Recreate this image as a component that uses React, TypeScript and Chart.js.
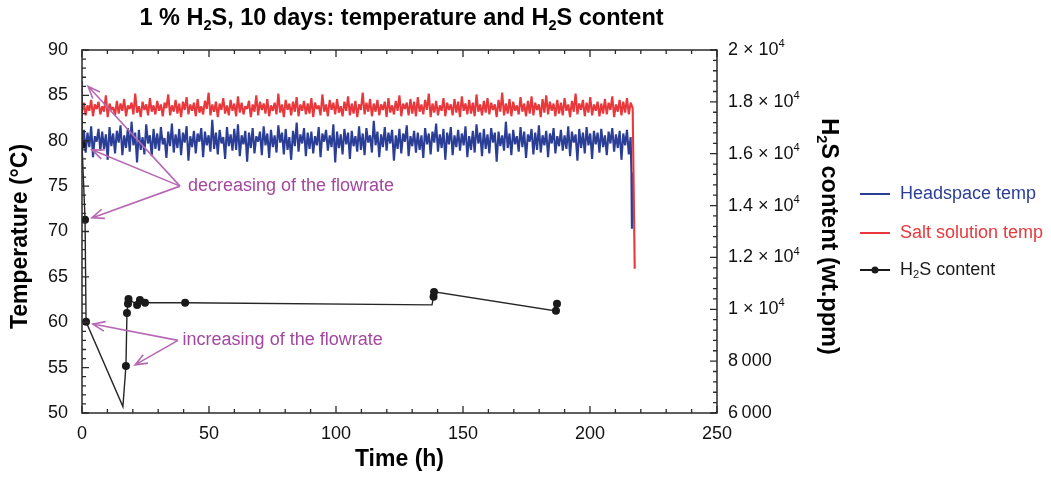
import React, { useEffect, useRef } from 'react';
import { Chart, registerables } from 'chart.js';
Chart.register(...registerables);

// ---------- data ----------
// Headspace temperature (°C), sampled every TEMP_STEP_H hours from TEMP_START_H
const HEADSPACE_TEMP = [
  79.6, 81.2, 78.7, 80.9, 79.3, 81.6, 78.2, 80.5, 79.9, 81.3, 78.9, 81.0, 79.1, 80.7, 77.9, 81.5, 79.4, 80.8, 78.6, 81.1,
  79.8, 81.7, 78.4, 80.6, 79.2, 81.4, 78.8, 82.1, 79.5, 80.9, 77.6, 81.2, 79.0, 80.4, 78.5, 81.8, 79.7, 80.6, 78.3, 81.3,
  79.1, 80.8, 78.9, 81.5, 79.6, 80.3, 78.1, 81.0, 79.4, 81.9, 78.7, 80.7, 79.2, 81.3, 78.4, 80.9, 79.8, 81.6, 77.8, 80.5,
  79.3, 81.1, 78.6, 80.8, 79.9, 81.4, 78.2, 81.0, 79.5, 80.6, 78.8, 82.3, 79.1, 80.9, 78.5, 81.2, 79.7, 80.4, 78.0, 81.5,
  79.4, 80.7, 78.9, 81.3, 79.0, 81.8, 78.3, 80.6, 79.6, 81.1, 77.7, 80.9, 79.2, 81.4, 78.6, 80.5, 79.9, 81.0, 78.4, 81.6,
  79.5, 80.8, 78.1, 81.2, 79.3, 80.6, 78.7, 81.7, 79.8, 80.9, 78.5, 81.3, 79.0, 80.4, 77.9, 81.1, 79.4, 82.0, 78.8, 80.7,
  79.7, 81.4, 78.3, 80.9, 79.1, 81.0, 78.6, 80.5, 79.5, 81.5, 78.2, 80.8, 79.9, 81.2, 78.9, 80.6, 79.3, 81.8, 77.6, 81.0,
  79.2, 80.7, 78.5, 81.3, 79.6, 80.9, 78.0, 81.1, 79.4, 80.5, 78.8, 81.6, 79.0, 80.8, 78.4, 81.4, 79.8, 80.6, 78.7, 82.2,
  79.5, 81.0, 78.2, 80.7, 79.3, 81.5, 78.9, 80.9, 79.7, 81.2, 77.8, 80.6, 79.1, 81.3, 78.6, 80.8, 79.9, 81.7, 78.3, 80.5,
  79.4, 81.1, 78.7, 80.9, 79.0, 80.6, 78.1, 81.4, 79.6, 80.8, 78.5, 81.0, 79.8, 81.9, 78.8, 80.7, 79.2, 81.3, 77.9, 80.9,
  79.6, 81.5, 78.4, 80.6, 79.3, 81.2, 78.9, 80.8, 79.5, 81.6, 78.2, 80.5, 79.0, 81.1, 78.7, 81.8, 79.7, 80.9, 78.3, 81.3,
  79.1, 80.7, 78.6, 81.4, 79.8, 80.9, 77.7, 81.0, 79.4, 80.6, 78.9, 82.1, 79.2, 80.8, 78.4, 81.2, 79.6, 80.5, 78.8, 81.5,
  79.3, 81.0, 78.1, 80.7, 79.9, 81.3, 78.5, 80.9, 79.0, 81.7, 78.7, 80.6, 79.5, 81.1, 78.2, 80.8, 79.7, 81.4, 78.6, 80.5,
  79.4, 81.2, 78.9, 80.6, 79.1, 81.6, 78.3, 81.0, 79.8, 80.7, 77.8, 81.3, 79.2, 80.9, 78.6, 81.5, 79.5, 80.8, 78.0, 81.1,
  79.6, 80.9, 78.7, 81.3, 79.3, 80.6, 78.4, 81.0, 79.7, 81.4, 78.8, 80.7, 79.2, 81.1, 77.9, 80.8, 79.5, 81.2, 78.5, 80.4,
];
// Salt solution temperature (°C), same sampling
const SALT_TEMP = [
  83.1, 84.2, 82.8, 83.9, 83.3, 84.5, 82.7, 84.0, 83.5, 84.3, 82.9, 83.8, 83.2, 85.0, 82.6, 84.1, 83.4, 83.7, 82.8, 84.4,
  83.0, 84.1, 83.3, 84.6, 82.7, 83.9, 83.5, 84.2, 82.9, 85.2, 83.1, 83.8, 82.6, 84.3, 83.4, 84.0, 82.8, 84.7, 83.2, 83.9,
  82.9, 84.4, 83.3, 84.0, 82.7, 84.2, 83.6, 85.1, 82.8, 83.9, 83.2, 84.5, 83.0, 84.1, 82.6, 84.3, 83.4, 84.8, 82.9, 84.0,
  83.3, 84.2, 82.7, 84.6, 83.1, 83.8, 82.9, 84.4, 83.5, 85.3, 82.8, 84.0, 83.2, 84.3, 82.6, 84.1, 83.4, 84.7, 83.0, 83.9,
  82.8, 84.5, 83.3, 84.1, 82.7, 84.9, 83.1, 84.2, 82.9, 83.8, 83.5, 84.4, 82.6, 84.0, 83.2, 85.0, 82.8, 84.3, 83.4, 84.1,
  83.0, 84.6, 82.7, 83.9, 83.3, 84.2, 82.9, 85.2, 83.1, 84.0, 82.6, 84.5, 83.4, 84.1, 82.8, 84.3, 83.2, 84.8, 82.7, 84.0,
  83.3, 84.4, 82.9, 84.1, 83.0, 84.7, 82.6, 84.2, 83.5, 83.9, 82.8, 85.1, 83.2, 84.0, 82.7, 84.5, 83.4, 84.2, 82.9, 84.6,
  83.1, 83.8, 82.7, 84.3, 83.3, 84.9, 82.8, 84.1, 83.0, 84.4, 82.6, 84.0, 83.4, 85.3, 82.9, 84.2, 83.2, 84.6, 82.7, 84.1,
  83.2, 84.5, 82.8, 84.0, 83.4, 84.3, 82.6, 84.7, 83.1, 83.9, 82.9, 84.4, 83.3, 85.0, 82.7, 84.1, 83.5, 84.2, 82.8, 84.6,
  83.0, 84.3, 82.7, 84.8, 83.2, 84.0, 82.9, 84.5, 83.4, 85.2, 82.6, 84.1, 83.1, 84.4, 82.8, 83.9, 83.3, 84.7, 82.7, 84.2,
  83.4, 84.0, 82.8, 84.6, 83.1, 84.3, 82.6, 84.9, 83.3, 84.1, 82.9, 84.5, 83.0, 84.2, 82.7, 85.1, 83.2, 84.0, 82.8, 84.4,
  83.1, 84.7, 82.9, 84.2, 83.4, 84.0, 82.6, 84.5, 83.2, 85.3, 82.8, 84.1, 83.0, 84.6, 82.7, 84.3, 83.3, 83.9, 82.9, 84.8,
  83.2, 84.1, 82.7, 84.4, 83.0, 84.9, 82.8, 84.2, 83.4, 84.0, 82.6, 84.6, 83.1, 85.0, 82.9, 84.3, 83.3, 84.1, 82.7, 84.5,
  83.0, 84.2, 82.8, 84.7, 83.3, 84.0, 82.6, 84.4, 83.2, 85.2, 82.9, 84.1, 83.4, 84.5, 82.7, 84.2, 83.1, 84.8, 82.8, 84.0,
  83.3, 84.3, 82.7, 84.1, 83.0, 84.6, 82.9, 84.2, 83.4, 84.9, 82.6, 84.0, 83.2, 84.5, 82.8, 84.3, 83.1, 84.7, 82.9, 84.2,
];
const TEMP_START_H = 0;
const TEMP_STEP_H = 0.7224;
// end-of-test cool-down readings
const HEADSPACE_END_T = [216.3, 216.5];
const HEADSPACE_END = [76.5, 70.3];
const SALT_END_T = [216.8, 217.6];
const SALT_END = [83.6, 65.9];

// H2S content (wt.ppm)
const H2S_T = [0, 0, 1.2, 1.6, 16.1, 17.3, 17.7, 18.1, 18.3, 21.7, 22.8, 24.8, 40.6, 137.8, 138.4, 138.6, 186.6, 187.0];
const H2S_PPM = [18800, 16350, 13450, 9515, 6250, 7815, 9860, 10210, 10400, 10170, 10360, 10250, 10250, 10170, 10480, 10670, 9940, 10210];
const H2S_MARKED = [false, true, true, true, false, true, true, true, true, true, true, true, true, false, true, true, true, true];

const X_MIN = 0, X_MAX = 250, X_MAJOR = 50, X_MINOR = 10;
const Y_MIN = 50, Y_MAX = 90, Y_MAJOR = 5, Y_MINOR = 1;
const Y2_MIN = 6000, Y2_MAX = 20000, Y2_MAJOR = 2000, Y2_MINOR = 400;
const Y2_TICK_VALUES = [6000, 8000, 10000, 12000, 14000, 16000, 18000, 20000];
const Y2_TICK_MANTISSA = ['6\u2009000', '8\u2009000', '1 × 10', '1.2 × 10', '1.4 × 10', '1.6 × 10', '1.8 × 10', '2 × 10'];
const Y2_TICK_EXPONENT = ['', '', '4', '4', '4', '4', '4', '4'];

const SERIES_NAMES = ['Headspace temp', 'Salt solution temp', 'H₂S content'];

const ANNOTATIONS = [
  { text: 'decreasing of the flowrate', at: [41.7, 75.0], from: [38.6, 75.0], tips: [[2.4, 86.0], [3.9, 79.0], [3.9, 71.5]] },
  { text: 'increasing of the flowrate', at: [39.6, 58.0], from: [37.8, 58.0], tips: [[4.3, 59.8], [20.9, 55.3]] },
];

// ---------- styles ----------
const FONT = '"Liberation Sans", Arial, Helvetica, sans-serif';
const BLUE = '#2b3e96';
const RED = '#e8383c';
const BLACK = '#1a1a1a';
const FRAME = '#2a2a2a';
const MAGENTA_TEXT = '#a4479f';
const MAGENTA_ARROW = '#b768b5';

type Seg = { t: string; sub?: boolean; sup?: boolean };

function drawRich(ctx: CanvasRenderingContext2D, segs: Seg[], x: number, y: number, size: number, weight: string, color: string, align: 'left' | 'center') {
  const f = (s: number) => `${weight} ${s}px ${FONT}`;
  const small = size * 0.62;
  let w = 0;
  for (const s of segs) { ctx.font = f(s.sub || s.sup ? small : size); w += ctx.measureText(s.t).width; }
  let cx = align === 'center' ? x - w / 2 : x;
  ctx.fillStyle = color;
  ctx.textBaseline = 'middle';
  ctx.textAlign = 'left';
  for (const s of segs) {
    ctx.font = f(s.sub || s.sup ? small : size);
    const dy = s.sub ? size * 0.3 : s.sup ? -size * 0.33 : 0;
    ctx.fillText(s.t, cx, y + dy);
    cx += ctx.measureText(s.t).width;
  }
}

const decorPlugin = {
  id: 'decor',
  afterDraw(chart: any) {
    const ctx: CanvasRenderingContext2D = chart.ctx;
    const a = chart.chartArea;
    const sx = chart.scales.x, sy = chart.scales.y, sy2 = chart.scales.y2;
    ctx.save();
    // frame
    ctx.strokeStyle = FRAME;
    ctx.lineWidth = 1.5;
    ctx.strokeRect(a.left, a.top, a.right - a.left, a.bottom - a.top);
    // ticks (inward)
    ctx.lineWidth = 1.3;
    ctx.beginPath();
    for (let v = X_MIN; v <= X_MAX + 1e-9; v += X_MINOR) {
      const px = sx.getPixelForValue(v);
      const len = Math.abs(v % X_MAJOR) < 1e-9 ? 7 : 4;
      ctx.moveTo(px, a.bottom); ctx.lineTo(px, a.bottom - len);
      ctx.moveTo(px, a.top); ctx.lineTo(px, a.top + len);
    }
    for (let v = Y_MIN; v <= Y_MAX + 1e-9; v += Y_MINOR) {
      const py = sy.getPixelForValue(v);
      const len = Math.abs((v - Y_MIN) % Y_MAJOR) < 1e-9 ? 7 : 4;
      ctx.moveTo(a.left, py); ctx.lineTo(a.left + len, py);
    }
    for (let v = Y2_MIN; v <= Y2_MAX + 1e-9; v += Y2_MINOR) {
      const py = sy2.getPixelForValue(v);
      const len = Math.abs((v - Y2_MIN) % Y2_MAJOR) < 1e-9 ? 7 : 4;
      ctx.moveTo(a.right, py); ctx.lineTo(a.right - len, py);
    }
    ctx.stroke();

    // right tick labels with real superscripts
    for (let i = 0; i < Y2_TICK_VALUES.length; i++) {
      const py = sy2.getPixelForValue(Y2_TICK_VALUES[i]);
      const segs: Seg[] = [{ t: Y2_TICK_MANTISSA[i] }];
      if (Y2_TICK_EXPONENT[i]) segs.push({ t: Y2_TICK_EXPONENT[i], sup: true });
      drawRich(ctx, segs, a.right + 11, py, 18, 'normal', '#111', 'left');
    }

    const midX = (a.left + a.right) / 2;
    const midY = (a.top + a.bottom) / 2 + 5;
    // title
    drawRich(ctx, [{ t: '1 % H' }, { t: '2', sub: true }, { t: 'S, 10 days: temperature and H' }, { t: '2', sub: true }, { t: 'S content' }], midX + 2, 19, 23.5, 'bold', '#000', 'center');
    // axis titles
    drawRich(ctx, [{ t: 'Time (h)' }], midX, 460, 23, 'bold', '#000', 'center');
    ctx.save();
    ctx.translate(21, midY);
    ctx.rotate(-Math.PI / 2);
    drawRich(ctx, [{ t: 'Temperature (°C)' }], 0, 0, 23, 'bold', '#000', 'center');
    ctx.restore();
    ctx.save();
    ctx.translate(828, midY);
    ctx.rotate(Math.PI / 2);
    drawRich(ctx, [{ t: 'H' }, { t: '2', sub: true }, { t: 'S content (wt.ppm)' }], 0, 0, 23.5, 'bold', '#000', 'center');
    ctx.restore();

    // legend
    const legY = [194, 233, 270];
    const legCol = [BLUE, RED, BLACK];
    for (let i = 0; i < 3; i++) {
      ctx.strokeStyle = legCol[i];
      ctx.lineWidth = 2;
      ctx.beginPath(); ctx.moveTo(860, legY[i]); ctx.lineTo(890, legY[i]); ctx.stroke();
    }
    ctx.fillStyle = BLACK;
    ctx.beginPath(); ctx.arc(875, legY[2], 3.5, 0, Math.PI * 2); ctx.fill();
    drawRich(ctx, [{ t: SERIES_NAMES[0] }], 900, legY[0], 18, 'normal', BLUE, 'left');
    drawRich(ctx, [{ t: SERIES_NAMES[1] }], 900, legY[1], 18, 'normal', RED, 'left');
    drawRich(ctx, [{ t: 'H' }, { t: '2', sub: true }, { t: 'S content' }], 900, legY[2], 18, 'normal', BLACK, 'left');

    // annotations
    for (const an of ANNOTATIONS) {
      const fx = sx.getPixelForValue(an.from[0]);
      const fy = sy.getPixelForValue(an.from[1]);
      ctx.strokeStyle = MAGENTA_ARROW;
      ctx.lineWidth = 1.6;
      for (const tip of an.tips) {
        const tx = sx.getPixelForValue(tip[0]);
        const ty = sy.getPixelForValue(tip[1]);
        const ang = Math.atan2(fy - ty, fx - tx);
        const hl = 13, ha = 0.38;
        ctx.beginPath();
        ctx.moveTo(fx, fy); ctx.lineTo(tx, ty);
        ctx.moveTo(tx + hl * Math.cos(ang + ha), ty + hl * Math.sin(ang + ha));
        ctx.lineTo(tx, ty);
        ctx.lineTo(tx + hl * Math.cos(ang - ha), ty + hl * Math.sin(ang - ha));
        ctx.stroke();
      }
      drawRich(ctx, [{ t: an.text }], sx.getPixelForValue(an.at[0]), sy.getPixelForValue(an.at[1]), 18, 'normal', MAGENTA_TEXT, 'left');
    }
    ctx.restore();
  },
};

export default function App() {
  const ref = useRef<HTMLCanvasElement | null>(null);
  useEffect(() => {
    document.body.style.margin = '0';
    const canvas = ref.current!;
    const headspace = HEADSPACE_TEMP.map((y, i) => ({ x: TEMP_START_H + i * TEMP_STEP_H, y }))
      .concat(HEADSPACE_END_T.map((x, i) => ({ x, y: HEADSPACE_END[i] })));
    const salt = SALT_TEMP.map((y, i) => ({ x: TEMP_START_H + i * TEMP_STEP_H, y }))
      .concat(SALT_END_T.map((x, i) => ({ x, y: SALT_END[i] })));
    const h2s = H2S_T.map((x, i) => ({ x, y: H2S_PPM[i] }));
    const tickFont = { family: FONT, size: 18 };
    const chart = new Chart(canvas, {
      type: 'line',
      data: {
        datasets: [
          { label: SERIES_NAMES[2], data: h2s, yAxisID: 'y2', borderColor: '#262626', borderWidth: 1.4, pointRadius: H2S_MARKED.map((m) => (m ? 4 : 0)), pointBackgroundColor: BLACK, pointBorderColor: BLACK, pointBorderWidth: 0, tension: 0, order: 0 },
          { label: SERIES_NAMES[1], data: salt, yAxisID: 'y', borderColor: RED, borderWidth: 2.1, borderJoinStyle: 'bevel', pointRadius: 0, tension: 0, order: 1 },
          { label: SERIES_NAMES[0], data: headspace, yAxisID: 'y', borderColor: BLUE, borderWidth: 2.1, borderJoinStyle: 'bevel', pointRadius: 0, tension: 0, order: 2 },
        ],
      },
      options: {
        animation: false,
        responsive: false,
        maintainAspectRatio: false,
        layout: { padding: { top: 50, right: 194, left: 0, bottom: 0 } },
        plugins: { legend: { display: false }, title: { display: false }, tooltip: { enabled: false } },
        events: [],
        scales: {
          x: {
            type: 'linear', min: X_MIN, max: X_MAX,
            ticks: { stepSize: X_MAJOR, padding: 10, font: tickFont, color: '#111' },
            grid: { display: false, drawTicks: false },
            border: { display: false },
            afterFit: (s: any) => { s.height = 64; },
          },
          y: {
            type: 'linear', position: 'left', min: Y_MIN, max: Y_MAX,
            ticks: { stepSize: Y_MAJOR, padding: 14, font: tickFont, color: '#111' },
            grid: { display: false, drawTicks: false },
            border: { display: false },
            afterFit: (s: any) => { s.width = 82; },
          },
          y2: {
            type: 'linear', position: 'right', min: Y2_MIN, max: Y2_MAX,
            ticks: { stepSize: Y2_MAJOR, display: false },
            grid: { display: false, drawTicks: false },
            border: { display: false },
            afterFit: (s: any) => { s.width = 140; },
          },
        },
      } as any,
      plugins: [decorPlugin],
    });
    return () => chart.destroy();
  }, []);
  return (
    <div style={{ position: 'fixed', left: 0, top: 0, width: 1051, height: 477, background: '#fff' }}>
      <canvas ref={ref} width={1051} height={477} style={{ width: 1051, height: 477, display: 'block' }} />
    </div>
  );
}
